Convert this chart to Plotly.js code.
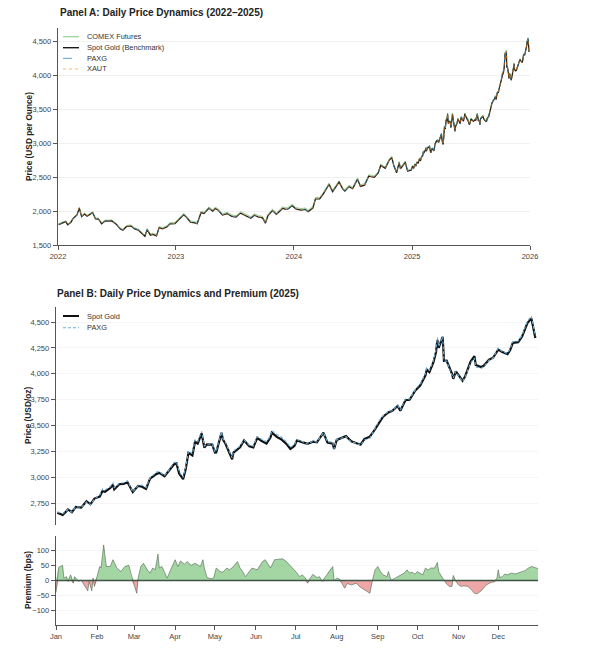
<!DOCTYPE html>
<html>
<head>
<meta charset="utf-8">
<script src="https://cdn.plot.ly/plotly-3.0.1.min.js"></script>
<style>
  body { margin: 0; background: #fff; }
  #chart { width: 591px; height: 651px; }
</style>
</head>
<body>
<div id="chart"></div>
<script>
// ---- Panel A, 2022-2024 ----
const datesA0 = [
  '2022-01-03','2022-01-14','2022-01-25','2022-01-31','2022-02-10','2022-02-17','2022-02-24','2022-03-01','2022-03-08','2022-03-15',
  '2022-03-24','2022-04-01','2022-04-11','2022-04-18','2022-04-27','2022-05-06','2022-05-16','2022-05-27','2022-06-08','2022-06-16',
  '2022-06-30','2022-07-13','2022-07-21','2022-08-01','2022-08-15','2022-08-26','2022-09-07','2022-09-16','2022-09-27','2022-10-04',
  '2022-10-14','2022-10-21','2022-11-02','2022-11-10','2022-11-21','2022-12-05','2022-12-13','2022-12-29',
  '2023-01-09','2023-01-25','2023-02-02','2023-02-15','2023-02-28','2023-03-08','2023-03-20','2023-03-29','2023-04-13','2023-04-25',
  '2023-05-03','2023-05-12','2023-05-25','2023-06-09','2023-06-23','2023-07-06','2023-07-20','2023-08-03','2023-08-21','2023-09-01',
  '2023-09-14','2023-09-26','2023-10-05','2023-10-13','2023-10-27','2023-11-08','2023-11-28','2023-12-04','2023-12-13','2023-12-27',
  '2024-01-08','2024-01-24','2024-02-05','2024-02-14','2024-02-29','2024-03-08','2024-03-21','2024-04-01','2024-04-12','2024-04-19',
  '2024-04-30','2024-05-10','2024-05-20','2024-05-31','2024-06-07','2024-06-20','2024-07-01','2024-07-16','2024-07-25','2024-08-07',
  '2024-08-20','2024-09-06','2024-09-18','2024-09-26','2024-10-10','2024-10-22','2024-10-30','2024-11-06','2024-11-14','2024-11-22',
  '2024-11-26','2024-12-11','2024-12-18','2024-12-30'
];
const spotA0 = [
  1801,1818,1845,1797,1834,1891,1915,1943,2043,1918,
  1958,1925,1953,1978,1886,1883,1813,1853,1853,1857,
  1807,1735,1718,1772,1780,1738,1718,1675,1628,1725,
  1645,1657,1635,1755,1738,1768,1810,1815,
  1873,1946,1912,1836,1827,1814,1978,1964,2040,1998,
  2038,2011,1940,1961,1921,1911,1970,1934,1894,1939,
  1910,1900,1820,1932,2006,1950,2041,2029,2027,2077,
  2028,2014,2025,1992,2044,2178,2181,2250,2344,2392,
  2286,2360,2425,2327,2294,2360,2330,2468,2364,2382,
  2514,2497,2560,2672,2630,2748,2788,2660,2565,2712,
  2622,2718,2587,2606
];
const comexA0 = [
  1815,1831,1857,1810,1846,1902,1928,1955,2056,1931,
  1970,1938,1967,1991,1900,1896,1827,1866,1868,1871,
  1820,1749,1733,1787,1796,1754,1735,1690,1645,1741,
  1662,1674,1652,1772,1756,1786,1828,1834,
  1892,1965,1931,1855,1846,1834,1997,1984,2060,2018,
  2058,2032,1961,1982,1942,1932,1991,1956,1916,1961,
  1932,1922,1843,1955,2029,1973,2064,2052,2050,2100,
  2051,2036,2047,2014,2066,2200,2203,2272,2366,2414,
  2308,2382,2447,2349,2316,2382,2352,2490,2386,2404,
  2536,2518,2581,2692,2650,2768,2808,2680,2584,2731,
  2641,2737,2606,2625
];
const paxgA0 = [
  1806,1820,1849,1799,1837,1894,1920,1946,2052,1920,
  1961,1929,1955,1981,1888,1886,1815,1855,1857,1860,
  1809,1737,1722,1775,1782,1740,1722,1678,1632,1728,
  1647,1660,1637,1758,1740,1771,1812,1818,
  1876,1949,1914,1839,1829,1817,1982,1966,2043,2000,
  2041,2013,1943,1963,1924,1913,1973,1936,1897,1941,
  1913,1902,1823,1935,2009,1952,2044,2031,2029,2080,
  2030,2016,2027,1994,2046,2181,2183,2253,2347,2395,
  2288,2362,2428,2329,2296,2362,2332,2471,2366,2384,
  2517,2499,2563,2675,2632,2751,2791,2662,2567,2714,
  2624,2720,2589,2609
];
const xautA0 = [
  1804,1822,1848,1801,1838,1895,1919,1947,2049,1921,
  1962,1928,1957,1982,1889,1887,1816,1857,1856,1861,
  1810,1739,1721,1776,1783,1742,1721,1679,1631,1729,
  1648,1661,1638,1759,1741,1772,1813,1819,
  1877,1950,1915,1840,1830,1818,1983,1967,2044,2001,
  2042,2014,1944,1964,1925,1914,1974,1937,1898,1942,
  1914,1903,1825,1936,2011,1953,2045,2033,2030,2081,
  2031,2018,2028,1996,2047,2183,2184,2254,2349,2397,
  2289,2364,2430,2330,2298,2364,2333,2473,2367,2386,
  2519,2500,2565,2676,2634,2753,2793,2663,2569,2716,
  2625,2722,2590,2610
];

// ---- 2025 (Panel B, also the tail of Panel A) ----
const dates2025 = [
  '2025-01-02','2025-01-06','2025-01-08','2025-01-10','2025-01-13','2025-01-16','2025-01-20','2025-01-24','2025-01-27','2025-01-30',
  '2025-02-03','2025-02-05','2025-02-07','2025-02-11','2025-02-13','2025-02-14','2025-02-18','2025-02-21','2025-02-24','2025-02-27',
  '2025-02-28','2025-03-04','2025-03-07','2025-03-10','2025-03-13','2025-03-18','2025-03-20','2025-03-24','2025-03-27','2025-03-31',
  '2025-04-02','2025-04-04','2025-04-07','2025-04-09','2025-04-11','2025-04-14','2025-04-16','2025-04-18','2025-04-21','2025-04-23',
  '2025-04-25','2025-04-29','2025-05-01','2025-05-02','2025-05-06','2025-05-07','2025-05-09','2025-05-12','2025-05-14','2025-05-15',
  '2025-05-20','2025-05-23','2025-05-27','2025-05-30','2025-06-02','2025-06-05','2025-06-09','2025-06-12','2025-06-13','2025-06-17',
  '2025-06-20','2025-06-24','2025-06-27','2025-06-30','2025-07-02','2025-07-07','2025-07-10','2025-07-14','2025-07-17','2025-07-22',
  '2025-07-25','2025-07-29','2025-07-30','2025-08-01','2025-08-05','2025-08-08','2025-08-12','2025-08-15','2025-08-19','2025-08-22',
  '2025-08-26','2025-08-29','2025-09-02','2025-09-05','2025-09-09','2025-09-12','2025-09-16','2025-09-18','2025-09-22','2025-09-25',
  '2025-09-29','2025-10-01','2025-10-03','2025-10-07','2025-10-08','2025-10-10','2025-10-13','2025-10-15','2025-10-16','2025-10-17',
  '2025-10-20','2025-10-21','2025-10-23','2025-10-27','2025-10-28','2025-10-30','2025-11-04','2025-11-06','2025-11-10','2025-11-13',
  '2025-11-14','2025-11-18','2025-11-20','2025-11-24','2025-11-27','2025-12-01','2025-12-04','2025-12-08','2025-12-10','2025-12-12',
  '2025-12-16','2025-12-19','2025-12-22','2025-12-23','2025-12-26','2025-12-29'
];
const spot2025 = [
  2658,2636,2662,2690,2663,2715,2708,2770,2740,2795,
  2815,2866,2861,2897,2928,2883,2935,2936,2952,2875,
  2858,2918,2910,2888,2988,3034,3043,3011,3058,3124,
  3134,3037,2982,3082,3237,3211,3343,3327,3424,3288,
  3319,3317,3239,3241,3430,3366,3325,3236,3175,3239,
  3290,3357,3300,3289,3381,3353,3326,3387,3432,3388,
  3368,3323,3274,3303,3357,3335,3323,3344,3338,3431,
  3336,3326,3275,3362,3381,3398,3348,3336,3315,3371,
  3393,3447,3533,3586,3627,3643,3689,3643,3746,3749,
  3833,3865,3886,3985,4040,4017,4110,4210,4326,4250,
  4356,4125,4126,4002,3952,4024,3933,3977,4116,4170,
  4085,4066,4077,4136,4155,4233,4210,4190,4230,4299,
  4305,4360,4445,4490,4535,4345
];
const paxg2025 = [
  2669,2649,2665,2689,2664,2718,2709,2762,2736,2790,
  2828,2889,2878,2911,2948,2899,2945,2948,2967,2879,
  2858,2920,2925,2900,2995,3052,3056,3019,3064,3144,
  3151,3055,2999,3100,3256,3229,3362,3344,3443,3302,
  3322,3319,3247,3255,3440,3375,3338,3248,3188,3254,
  3304,3361,3310,3302,3393,3370,3346,3402,3451,3412,
  3392,3344,3290,3315,3365,3341,3320,3351,3341,3433,
  3343,3342,3275,3365,3378,3393,3343,3333,3308,3361,
  3378,3454,3547,3593,3638,3644,3694,3650,3758,3758,
  3841,3877,3896,4002,4055,4033,4127,4231,4352,4263,
  4359,4126,4121,3994,3959,4023,3925,3970,4104,4152,
  4067,4052,4067,4132,4153,4248,4215,4198,4240,4310,
  4316,4373,4461,4508,4556,4363
];
const comex2025 = [
  2673,2651,2677,2705,2678,2730,2723,2785,2755,2810,
  2830,2881,2876,2912,2943,2898,2950,2951,2967,2890,
  2873,2933,2925,2903,3003,3049,3058,3026,3073,3139,
  3149,3052,2997,3097,3252,3226,3358,3342,3439,3303,
  3334,3332,3254,3256,3445,3381,3340,3251,3190,3254,
  3305,3372,3315,3304,3396,3368,3341,3402,3447,3403,
  3383,3338,3289,3318,3372,3350,3338,3359,3353,3446,
  3351,3341,3290,3377,3396,3413,3363,3351,3330,3386,
  3408,3462,3548,3601,3642,3658,3704,3658,3761,3764,
  3848,3880,3901,4000,4055,4032,4125,4225,4341,4265,
  4371,4140,4141,4017,3967,4039,3948,3992,4131,4185,
  4100,4081,4092,4151,4170,4248,4225,4205,4245,4314,
  4320,4375,4460,4505,4550,4360
];
const xaut2025 = [
  2662,2641,2666,2694,2668,2719,2712,2775,2744,2799,
  2820,2870,2866,2901,2933,2887,2940,2940,2957,2879,
  2862,2923,2914,2893,2992,3039,3047,3016,3062,3129,
  3138,3042,2986,3087,3241,3216,3347,3332,3429,3292,
  3324,3321,3244,3245,3435,3370,3330,3240,3180,3243,
  3295,3361,3305,3293,3386,3357,3331,3391,3437,3392,
  3373,3327,3279,3307,3362,3339,3328,3348,3343,3435,
  3341,3330,3280,3366,3386,3402,3353,3340,3320,3375,
  3398,3451,3538,3590,3632,3647,3694,3647,3751,3753,
  3838,3869,3891,3989,4045,4021,4115,4214,4331,4254,
  4361,4129,4131,4006,3957,4028,3938,3981,4121,4174,
  4090,4070,4082,4140,4160,4237,4215,4194,4235,4303,
  4310,4364,4450,4494,4540,4349
];

// ---- PAXG premium vs spot, bps ----
const premDates = [
  '2025-01-01','2025-01-03','2025-01-06','2025-01-07','2025-01-09','2025-01-10','2025-01-12','2025-01-14','2025-01-15','2025-01-18',
  '2025-01-20','2025-01-23','2025-01-25','2025-01-26','2025-01-28','2025-01-29','2025-01-30','2025-02-01','2025-02-03','2025-02-04',
  '2025-02-06','2025-02-08','2025-02-11','2025-02-13','2025-02-16','2025-02-19','2025-02-22','2025-02-25','2025-02-27','2025-03-01',
  '2025-03-03','2025-03-04','2025-03-06','2025-03-08','2025-03-11','2025-03-13','2025-03-15','2025-03-17','2025-03-19','2025-03-20',
  '2025-03-22','2025-03-24','2025-03-26','2025-03-28','2025-03-30','2025-04-01','2025-04-03','2025-04-05','2025-04-08','2025-04-10',
  '2025-04-13','2025-04-16','2025-04-20','2025-04-22','2025-04-23','2025-04-25','2025-04-28','2025-04-30','2025-05-02','2025-05-05',
  '2025-05-07','2025-05-10','2025-05-12','2025-05-15','2025-05-18','2025-05-20','2025-05-22','2025-05-24','2025-05-27','2025-05-29',
  '2025-06-02','2025-06-06','2025-06-08','2025-06-12','2025-06-15','2025-06-21','2025-06-24','2025-06-27','2025-06-29','2025-07-02',
  '2025-07-04','2025-07-06','2025-07-08','2025-07-10','2025-07-12','2025-07-14','2025-07-17','2025-07-19','2025-07-21','2025-07-24',
  '2025-07-26','2025-07-29','2025-07-30','2025-08-01','2025-08-03','2025-08-05','2025-08-07','2025-08-09','2025-08-12','2025-08-14',
  '2025-08-16','2025-08-18','2025-08-20','2025-08-22','2025-08-24','2025-08-26','2025-08-28','2025-08-30','2025-09-01','2025-09-03',
  '2025-09-05','2025-09-08','2025-09-09','2025-09-11','2025-09-13','2025-09-16','2025-09-19','2025-09-21','2025-09-23','2025-09-25',
  '2025-09-27','2025-09-29','2025-10-01','2025-10-03','2025-10-05','2025-10-07','2025-10-09','2025-10-11','2025-10-14','2025-10-16',
  '2025-10-17','2025-10-19','2025-10-21','2025-10-23','2025-10-25','2025-10-27','2025-10-28','2025-10-29','2025-10-30','2025-11-01',
  '2025-11-03','2025-11-05','2025-11-08','2025-11-10','2025-11-13','2025-11-15','2025-11-18','2025-11-20','2025-11-22','2025-11-24',
  '2025-11-26','2025-11-28','2025-11-30','2025-12-01','2025-12-02','2025-12-04','2025-12-06','2025-12-08','2025-12-11','2025-12-14',
  '2025-12-16','2025-12-19','2025-12-21','2025-12-23','2025-12-26','2025-12-28','2025-12-31'
];
const premBps = [
  -40,44,51,8,13,-3,19,-9,13,-3,
  2,-20,-35,-3,-35,8,-20,13,47,42,
  120,47,47,70,42,30,47,51,13,-15,
  -43,8,47,58,36,25,42,36,89,42,
  47,28,8,30,53,70,47,66,55,64,
  51,58,47,70,42,10,6,8,42,30,
  28,42,36,47,64,42,30,13,30,42,
  36,64,70,42,70,73,64,50,42,25,
  13,19,10,-9,8,21,10,13,-3,15,
  30,47,0,8,5,-10,-26,-10,-15,-12,
  -9,-20,-25,-31,-38,-43,2,36,47,30,
  19,13,30,2,5,13,20,25,36,25,
  28,22,30,25,19,42,35,42,42,61,
  30,15,2,-12,-20,-20,17,5,-3,-15,
  -20,-18,-20,-28,-43,-45,-35,-25,-15,-10,
  -6,-5,8,36,10,13,22,19,25,22,
  25,30,33,40,47,45,40
];

const ticksA = [1500, 2000, 2500, 3000, 3500, 4000, 4500];
const ticksB = [2750, 3000, 3250, 3500, 3750, 4000, 4250, 4500];
const ticksPrem = [-100, -50, 0, 50, 100];

const datesA = datesA0.concat(dates2025);
const spotA = spotA0.concat(spot2025);
const paxgA = paxgA0.concat(paxg2025);
const comexA = comexA0.concat(comex2025);
const xautA = xautA0.concat(xaut2025);

// split premium into parts above and below zero for the two fills
const premPos = premBps.map(v => Math.max(v, 0));
const premNeg = premBps.map(v => Math.min(v, 0));

const FONT = 'Liberation Sans, Arial, sans-serif';
const W = 591, H = 651;
const px = v => v / W;
const py = v => 1 - v / H;

const cComex = 'rgba(44,160,44,0.5)';
const cPaxgA = 'rgba(31,119,180,0.7)';
const cXaut = 'rgba(255,127,14,0.6)';
const cPaxgB = '#6aaed6';

const data = [
  {x: datesA, y: comexA, mode: 'lines', name: 'COMEX Futures', line: {color: cComex, width: 1}},
  {x: datesA, y: spotA, mode: 'lines', name: 'Spot Gold (Benchmark)', line: {color: '#1a1a1a', width: 1.2}},
  {x: datesA, y: paxgA, mode: 'lines', name: 'PAXG', line: {color: cPaxgA, width: 0.9, dash: 'dash'}},
  {x: datesA, y: xautA, mode: 'lines', name: 'XAUT', line: {color: cXaut, width: 1, dash: 'dot'}},

  {x: dates2025, y: spot2025, xaxis: 'x2', yaxis: 'y2', mode: 'lines', name: 'Spot Gold', line: {color: '#111', width: 2.2}},
  {x: dates2025, y: paxg2025, xaxis: 'x2', yaxis: 'y2', mode: 'lines', name: 'PAXG', line: {color: cPaxgB, width: 1.1, dash: '3px,2px'}},

  {x: premDates, y: premPos, xaxis: 'x3', yaxis: 'y3', mode: 'lines', fill: 'tozeroy',
   fillcolor: 'rgba(90,180,90,0.55)', line: {width: 0}},
  {x: premDates, y: premNeg, xaxis: 'x3', yaxis: 'y3', mode: 'lines', fill: 'tozeroy',
   fillcolor: 'rgba(214,60,60,0.45)', line: {width: 0}},
  {x: premDates, y: premBps, xaxis: 'x3', yaxis: 'y3', mode: 'lines', line: {color: 'rgba(80,100,80,0.75)', width: 0.8}}
];

const axisBase = {
  showline: true, linecolor: '#555', linewidth: 1.3,
  ticks: 'outside', ticklen: 4, tickwidth: 1, tickcolor: '#555',
  tickfont: {family: FONT, size: 7.5, color: '#444'},
  zeroline: false, showgrid: false
};

function legendLine(y, color, width, dash) {
  return {type: 'line', xref: 'paper', yref: 'paper', x0: px(63), x1: px(79), y0: py(y), y1: py(y),
          line: {color: color, width: width, dash: dash || 'solid'}};
}
function legendText(y, text) {
  return {text: text, xref: 'paper', yref: 'paper', x: px(85), y: py(y), xanchor: 'left', yanchor: 'middle',
          showarrow: false, font: {family: FONT, size: 7.4, color: '#333'}};
}
function sideTitle(y, x, text) {
  return {text: '<b>' + text + '</b>', xref: 'paper', yref: 'paper', x: px(x), y: py(y), textangle: -90,
          xanchor: 'center', yanchor: 'middle', showarrow: false, font: {family: FONT, size: 8.3, color: '#222'}};
}

const layout = {
  width: W, height: H,
  margin: {l: 0, r: 0, t: 0, b: 0},
  paper_bgcolor: '#fff', plot_bgcolor: '#fff',
  showlegend: false,
  font: {family: FONT, size: 7.5, color: '#444'},
  xaxis: Object.assign({}, axisBase, {
    domain: [px(58), px(530)], anchor: 'y', type: 'date',
    range: ['2022-01-01', '2026-01-01'], dtick: 'M12', tick0: '2022-01-01', tickformat: '%Y'
  }),
  yaxis: Object.assign({}, axisBase, {
    domain: [py(245), py(28)], anchor: 'x', range: [1500, 4700],
    tickvals: ticksA, tickformat: ',', showgrid: true, gridcolor: '#ececec', gridwidth: 0.8
  }),
  xaxis2: {
    domain: [px(56), px(538)], anchor: 'y2', type: 'date', matches: 'x3',
    showline: false, showticklabels: false, ticks: '', showgrid: false, zeroline: false
  },
  yaxis2: Object.assign({}, axisBase, {
    domain: [py(525), py(307)], anchor: 'x2', range: [2540, 4645],
    tickvals: ticksB, tickformat: ',', showgrid: true, gridcolor: '#f2f2f2', gridwidth: 0.8
  }),
  xaxis3: Object.assign({}, axisBase, {
    domain: [px(56), px(538)], anchor: 'y3', type: 'date',
    range: ['2025-01-01', '2025-12-31'], dtick: 'M1', tick0: '2025-01-01', tickformat: '%b'
  }),
  yaxis3: Object.assign({}, axisBase, {
    domain: [py(625), py(536)], anchor: 'x3', range: [-150, 150],
    tickvals: ticksPrem, showgrid: true, gridcolor: '#f2f2f2', gridwidth: 0.8
  }),
  shapes: [
    // zero line of the premium panel
    {type: 'line', xref: 'x3 domain', yref: 'y3', x0: 0, x1: 1, y0: 0, y1: 0,
     line: {color: '#3f5446', width: 1.5}, layer: 'above'},
    legendLine(36.7, cComex, 1.2),
    legendLine(47.7, '#1a1a1a', 1.4),
    legendLine(58.3, cPaxgA, 1, 'dash'),
    legendLine(69, cXaut, 1.1, 'dot'),
    legendLine(316, '#111', 2),
    legendLine(327.7, cPaxgB, 1.1, '3px,2px')
  ],
  annotations: [
    {text: '<b>Panel A: Daily Price Dynamics (2022–2025)</b>', xref: 'paper', yref: 'paper', x: px(58), y: py(13),
     xanchor: 'left', yanchor: 'middle', showarrow: false, font: {family: FONT, size: 10, color: '#222'}},
    {text: '<b>Panel B: Daily Price Dynamics and Premium (2025)</b>', xref: 'paper', yref: 'paper', x: px(55), y: py(293),
     xanchor: 'left', yanchor: 'middle', showarrow: false, font: {family: FONT, size: 10, color: '#222'}},
    sideTitle(136, 29, 'Price (USD per Ounce)'),
    sideTitle(416, 28, 'Price (USD/oz)'),
    sideTitle(580, 28, 'Premium (bps)'),
    legendText(36.7, 'COMEX Futures'),
    legendText(47.7, 'Spot Gold (Benchmark)'),
    legendText(58.3, 'PAXG'),
    legendText(69, 'XAUT'),
    legendText(316, 'Spot Gold'),
    legendText(327.7, 'PAXG')
  ]
};

Plotly.newPlot('chart', data, layout, {displayModeBar: false, staticPlot: true});
</script>
</body>
</html>
